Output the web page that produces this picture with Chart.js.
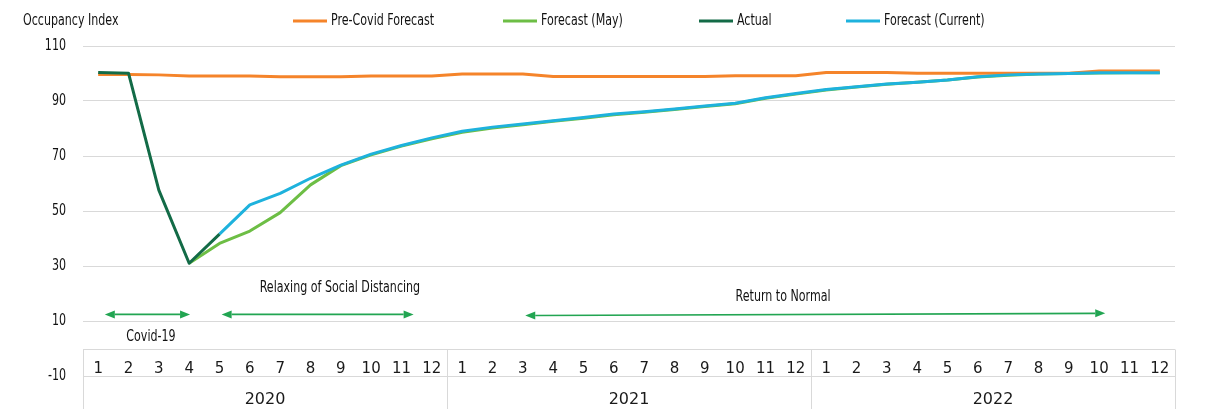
<!DOCTYPE html>
<html><head><meta charset="utf-8">
<script src="https://cdn.jsdelivr.net/npm/chart.js@4.4.0/dist/chart.umd.min.js"></script>
<style>html,body{margin:0;padding:0;background:#fff;}#wrap{width:1211px;height:409px;position:relative;}</style>
</head><body><div id="wrap"><canvas id="c"></canvas></div>
<script>
// ---- data ----
const years = ['2020', '2021', '2022'];
const months = ['1','2','3','4','5','6','7','8','9','10','11','12'];
const yTicks = [-10, 10, 30, 50, 70, 90, 110];
const seriesNames = ['Pre-Covid Forecast', 'Forecast (May)', 'Actual', 'Forecast (Current)'];
const preCovid = [99.6,99.6,99.5,99.1,99.1,99.1,98.8,98.8,98.8,99.1,99.1,99.1,
                  99.8,99.8,99.8,98.9,98.9,98.9,98.9,98.9,98.9,99.2,99.2,99.2,
                  100.4,100.4,100.4,100.1,100.1,100.1,100.1,100.1,100.1,100.9,100.9,100.9];
const forecastMay = [null,null,null,31,38.2,42.7,49.4,59.5,66.5,70.4,73.6,76.3,
                     78.6,80.2,81.4,82.6,83.7,85.0,85.9,86.9,88.0,89.0,91.0,92.5,
                     94.0,95.1,96.1,96.8,97.6,98.7,99.4,99.8,100.0,100.2,100.3,100.3];
const actual = [100.4,100.1,57.6,31,41.6,null,null,null,null,null,null,null,
                null,null,null,null,null,null,null,null,null,null,null,null,
                null,null,null,null,null,null,null,null,null,null,null,null];
const forecastCurrent = [null,null,null,null,41.6,52.2,56.4,61.9,66.7,70.7,73.8,76.6,
                         79.0,80.5,81.6,82.8,84.0,85.3,86.1,87.1,88.2,89.2,91.2,92.7,
                         94.2,95.2,96.2,96.8,97.6,98.8,99.5,99.8,100.0,100.3,100.3,100.3];
const periodLabels = ['Covid-19', 'Relaxing of Social Distancing', 'Return to Normal'];
const periodStart = [0.22, 4.07, 14.08];   // category index
const periodEnd = [3.03, 10.4, 33.2];
const periodArrowY = [[12.4,12.4],[12.4,12.4],[12.0,12.8]];
const periodLabelX = [1.74, 7.97, 22.58];
const periodLabelY = [4.2, 22, 18.7];

const categories = [];
years.forEach(y => months.forEach(m => categories.push(y + '-' + m)));

const NARROW = "'Liberation Sans Narrow','DejaVu Sans Condensed','Roboto Condensed',sans-serif";
const WIDE = "'DejaVu Sans',sans-serif";
const colors = ['#F5842A', '#6DBE45', '#136B47', '#1EB2DD'];
const arrowColor = '#22A552';
const SQ = 0.77;

function condText(ctx, text, px, py, align) {
  ctx.save();
  ctx.translate(px, py);
  ctx.scale(SQ, 1);
  ctx.textAlign = align;
  ctx.fillText(text, 0, 0);
  ctx.restore();
}

const overlay = {
  id: 'overlay',
  beforeDatasetsDraw(chart) {
    const ctx = chart.ctx, x = chart.scales.x, y = chart.scales.y, a = chart.chartArea;
    ctx.save();
    ctx.strokeStyle = '#D9D9D9'; ctx.lineWidth = 1;
    const y0 = Math.round(y.getPixelForValue(0)) + 0.5;
    ctx.beginPath(); ctx.moveTo(a.left, y0); ctx.lineTo(a.right, y0); ctx.stroke();
    for (let k = 0; k <= years.length; k++) {
      const px = Math.round(x.getPixelForValue(k * months.length - 0.5)) + 0.5;
      ctx.beginPath(); ctx.moveTo(px, y0); ctx.lineTo(px, chart.height); ctx.stroke();
    }
    ctx.restore();
  },
  afterDraw(chart) {
    const ctx = chart.ctx, x = chart.scales.x, y = chart.scales.y, a = chart.chartArea;
    ctx.save();
    ctx.textBaseline = 'middle';
    // y tick labels
    ctx.fillStyle = '#111';
    ctx.font = '16px ' + NARROW;
    yTicks.forEach(v => condText(ctx, String(v), 66, y.getPixelForValue(v), 'right'));
    // month and year labels
    ctx.fillStyle = '#1a1a1a';
    ctx.textAlign = 'center';
    ctx.font = '15px ' + WIDE;
    categories.forEach((c, i) => {
      ctx.fillText(c.split('-')[1], x.getPixelForValue(i), 369);
    });
    ctx.font = '16px ' + WIDE;
    years.forEach((yr, k) => {
      const mid = (x.getPixelForValue(k * 12 - 0.5) + x.getPixelForValue(k * 12 + 11.5)) / 2;
      ctx.fillText(yr, mid, 400);
    });
    // title
    ctx.font = '16px ' + NARROW;
    ctx.fillStyle = '#111';
    condText(ctx, 'Occupancy Index', 23, 21, 'left');
    // legend
    const legX = [293, 503, 699, 846];
    seriesNames.forEach((n, i) => {
      ctx.strokeStyle = colors[i]; ctx.lineWidth = 3;
      ctx.beginPath(); ctx.moveTo(legX[i], 21); ctx.lineTo(legX[i] + 34, 21); ctx.stroke();
      ctx.fillStyle = '#111';
      condText(ctx, n, legX[i] + 38, 21, 'left');
    });
    // period annotations
    ctx.strokeStyle = arrowColor; ctx.fillStyle = arrowColor; ctx.lineWidth = 1.6;
    periodLabels.forEach((lab, i) => {
      const x1 = x.getPixelForValue(periodStart[i]), x2 = x.getPixelForValue(periodEnd[i]);
      const y1 = y.getPixelForValue(periodArrowY[i][0]), y2 = y.getPixelForValue(periodArrowY[i][1]);
      const ang = Math.atan2(y2 - y1, x2 - x1);
      const L = 10, W = 4;
      ctx.beginPath();
      ctx.moveTo(x1 + L * Math.cos(ang), y1 + L * Math.sin(ang));
      ctx.lineTo(x2 - L * Math.cos(ang), y2 - L * Math.sin(ang));
      ctx.stroke();
      const head = (tx, ty, dir) => {
        const c = Math.cos(ang) * dir, s = Math.sin(ang) * dir;
        ctx.beginPath();
        ctx.moveTo(tx, ty);
        ctx.lineTo(tx - L * c - W * -s, ty - L * s - W * c);
        ctx.lineTo(tx - L * c + W * -s, ty - L * s + W * c);
        ctx.closePath(); ctx.fill();
      };
      head(x2, y2, 1); head(x1, y1, -1);
    });
    ctx.fillStyle = '#111';
    ctx.font = '16px ' + NARROW;
    periodLabels.forEach((lab, i) => {
      condText(ctx, lab, x.getPixelForValue(periodLabelX[i]), y.getPixelForValue(periodLabelY[i]), 'center');
    });
    ctx.restore();
  }
};

const mk = (i, data, order) => ({
  label: seriesNames[i], data, borderColor: colors[i], backgroundColor: colors[i],
  borderWidth: 3, pointRadius: 0, tension: 0, spanGaps: false, order,
  borderJoinStyle: 'round', borderCapStyle: 'butt'
});

new Chart(document.getElementById('c'), {
  type: 'line',
  data: {
    labels: categories,
    datasets: [mk(0, preCovid, 2), mk(1, forecastMay, 3), mk(2, actual, 0), mk(3, forecastCurrent, 1)]
  },
  options: {
    responsive: true, maintainAspectRatio: false, animation: false,
    layout: { padding: { left: 0, right: 36, top: 46, bottom: 33 } },
    plugins: { legend: { display: false }, tooltip: { enabled: false } },
    scales: {
      x: { type: 'category', offset: true, display: false },
      y: {
        min: -10, max: 110,
        afterBuildTicks: s => { s.ticks = yTicks.map(v => ({ value: v })); },
        afterFit: s => { s.width = 83; },
        grid: { color: '#D9D9D9', lineWidth: 1, drawTicks: false },
        border: { display: false },
        ticks: { display: false }
      }
    }
  },
  plugins: [overlay]
});
</script></body></html>
